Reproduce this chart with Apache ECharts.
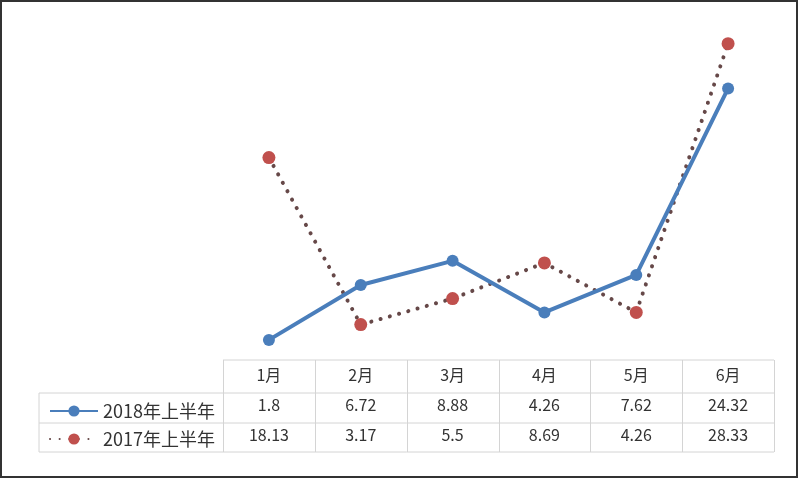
<!DOCTYPE html>
<html>
<head>
<meta charset="utf-8">
<script src="https://cdn.jsdelivr.net/npm/echarts@6/dist/echarts.min.js"></script>
<style>
  html, body { margin: 0; padding: 0; background: #fff; }
  #main { width: 800px; height: 481px; }
</style>
</head>
<body>
<div id="main"></div>
<script>
// 数据
var months = ['1月', '2月', '3月', '4月', '5月', '6月'];
var seriesNames = ['2018年上半年', '2017年上半年'];
var data2018 = [1.8, 6.72, 8.88, 4.26, 7.62, 24.32];
var data2017 = [18.13, 3.17, 5.5, 8.69, 4.26, 28.33];

var chart = echarts.init(document.getElementById('main'));

// 表格线 (数据表)
var tblLeft = 223, tblRight = 774, legLeft = 39;
var rowY = [360, 393, 423, 452];
var lineColor = '#d4d4d4';
var colW = (tblRight - tblLeft) / months.length;
var tableLines = [];
// 横线
tableLines.push({ type: 'line', shape: { x1: tblLeft, y1: rowY[0], x2: tblRight, y2: rowY[0] }, style: { stroke: lineColor, lineWidth: 1 } });
for (var r = 1; r < rowY.length; r++) {
  tableLines.push({ type: 'line', shape: { x1: legLeft, y1: rowY[r], x2: tblRight, y2: rowY[r] }, style: { stroke: lineColor, lineWidth: 1 } });
}
// 竖线
tableLines.push({ type: 'line', shape: { x1: legLeft, y1: rowY[1], x2: legLeft, y2: rowY[3] }, style: { stroke: lineColor, lineWidth: 1 } });
for (var c = 0; c <= months.length; c++) {
  var x = Math.round(tblLeft + c * colW) + 0.5;
  tableLines.push({ type: 'line', shape: { x1: x, y1: rowY[0], x2: x, y2: rowY[3] }, style: { stroke: lineColor, lineWidth: 1 } });
}
// 外框
tableLines.push({ type: 'rect', shape: { x: 1, y: 1, width: 796, height: 476 }, style: { fill: 'none', stroke: '#333', lineWidth: 2 } });

var option = {
  backgroundColor: '#fff',
  animation: false,
  textStyle: { fontFamily: '"Noto Sans CJK SC", "Noto Sans", sans-serif' },
  grid: { left: tblLeft, right: 800 - tblRight, top: 25, bottom: 481 - rowY[0] },
  legend: {
    orient: 'vertical',
    left: 44,
    top: 397,
    itemGap: 10,
    itemWidth: 48,
    itemHeight: 14,
    textStyle: { fontSize: 18, color: '#333' },
    data: seriesNames
  },
  xAxis: {
    type: 'category',
    data: months,
    boundaryGap: true,
    axisLine: { show: false },
    axisTick: { show: false },
    axisLabel: {
      margin: 0,
      interval: 0,
      fontSize: 16,
      color: '#333',
      lineHeight: 30,
      formatter: function (val, idx) {
        return val + '\n' + data2018[idx] + '\n' + data2017[idx];
      }
    }
  },
  yAxis: {
    type: 'value',
    min: 0,
    max: 30,
    show: false
  },
  series: [
    {
      name: seriesNames[0],
      type: 'line',
      data: data2018,
      symbol: 'circle',
      symbolSize: 12,
      z: 3,
      itemStyle: { color: '#4a7ebb' },
      lineStyle: { color: '#4a7ebb', width: 4 }
    },
    {
      name: seriesNames[1],
      type: 'line',
      data: data2017,
      symbol: 'circle',
      symbolSize: 13,
      z: 2,
      itemStyle: { color: '#c0504d' },
      lineStyle: { color: '#664848', width: 4, type: [0.1, 9.5], cap: 'round' }
    }
  ],
  graphic: tableLines
};

chart.setOption(option);
</script>
</body>
</html>
